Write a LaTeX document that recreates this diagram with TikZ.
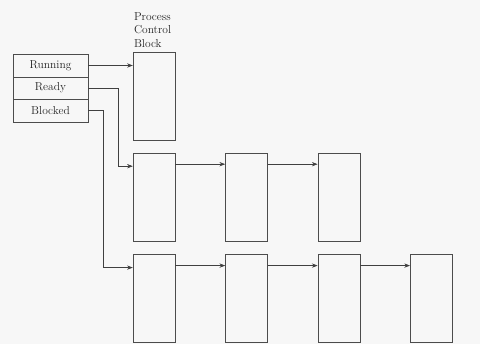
\documentclass[tikz,border=0pt]{standalone}
\usepackage{tikz}
\usetikzlibrary{positioning,arrows.meta}

\begin{document}
\begin{tikzpicture}[
  x=1pt, y=-1pt,
  node distance=12pt and 50pt,
  font=\fontsize{11.5}{13.5}\selectfont,
  state/.style={draw=black!70, text=black!85, minimum width=75pt, minimum height=22.5pt, inner sep=0pt},
  pcb/.style={draw=black!70, minimum width=42pt, minimum height=88pt, inner sep=0pt},
  arrow/.style={->, >=Stealth, draw=black!75, semithick}
]
\useasboundingbox[fill=black!3] (0,0) rectangle (480,344);
\node[state] (running) at (50.5,65.5) {Running};
\node[state, below=-0.4pt of running] (ready) {Ready};
\node[state, below=-0.4pt of ready] (blocked) {Blocked};
\node[pcb] (pcb) at (154,96) {};
\node[anchor=south west, align=left, inner sep=1pt, text=black!85, yshift=3pt] (pcblabel) at (pcb.north west) {Process\\Control\\Block};
\node[pcb, below=13pt of pcb] (rdyA) {};
\node[pcb, right=of rdyA] (rdyB) {};
\node[pcb, right=of rdyB] (rdyC) {};
\node[pcb, below=of rdyA] (blkA) {};
\node[pcb, right=of blkA] (blkB) {};
\node[pcb, right=of blkB] (blkC) {};
\node[pcb, right=of blkC] (blkD) {};
\draw[arrow] (running.east) -- (running.east -| pcb.west);
\draw[arrow] (ready.east) -- ([xshift=30pt]ready.east) |- ([yshift=-13pt]rdyA.north west);
\draw[arrow] (blocked.east) -- ([xshift=15pt]blocked.east) |- ([yshift=-14pt]blkA.north west);
\draw[arrow] ([yshift=-11pt]rdyA.north east) -- ([yshift=-11pt]rdyB.north west);
\draw[arrow] ([yshift=-11pt]rdyB.north east) -- ([yshift=-11pt]rdyC.north west);
\draw[arrow] ([yshift=-12pt]blkA.north east) -- ([yshift=-12pt]blkB.north west);
\draw[arrow] ([yshift=-12pt]blkB.north east) -- ([yshift=-12pt]blkC.north west);
\draw[arrow] ([yshift=-12pt]blkC.north east) -- ([yshift=-12pt]blkD.north west);
\end{tikzpicture}
\end{document}
